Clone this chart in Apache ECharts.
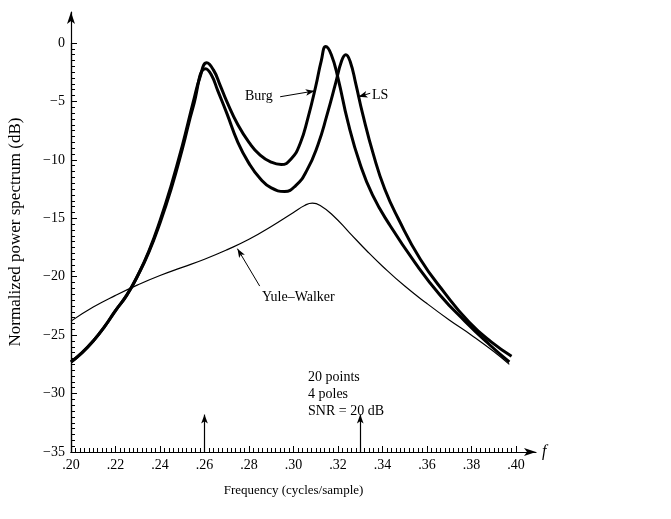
<!DOCTYPE html>
<html><head><meta charset="utf-8">
<script src="https://cdn.jsdelivr.net/npm/echarts@6/dist/echarts.min.js"></script>
<style>html,body{margin:0;padding:0;background:#fff}#c{width:671px;height:519px}</style>
</head><body><div id="c"></div>
<script>
// Frequencies (cycles/sample) and normalized power (dB)
const burgF  = [0.200,0.205,0.210,0.215,0.220,0.225,0.230,0.235,0.240,0.245,0.250,0.255,0.258,0.261,0.264,0.267,0.270,0.275,0.280,0.285,0.290,0.2945,0.299,0.303,0.3065,0.310,0.3125,0.3145,0.317,0.320,0.3245,0.330,0.3355,0.343,0.355,0.366,0.377,0.388,0.397];
const burgDb = [-27.3,-26.5,-25.5,-24.3,-22.9,-21.6,-19.9,-17.8,-15.2,-12.2,-8.8,-5.0,-2.9,-1.7,-2.3,-3.6,-5.0,-7.0,-8.5,-9.6,-10.2,-10.4,-9.9,-8.6,-6.4,-3.7,-1.5,-0.3,-1.0,-3.0,-6.8,-10.4,-13.0,-15.5,-18.9,-21.6,-23.8,-25.8,-27.3];
const lsF    = [0.200,0.205,0.210,0.215,0.220,0.225,0.230,0.235,0.240,0.245,0.250,0.255,0.2605,0.263,0.266,0.270,0.275,0.280,0.285,0.290,0.296,0.301,0.306,0.311,0.315,0.319,0.3215,0.3235,0.3255,0.328,0.331,0.336,0.341,0.347,0.357,0.368,0.379,0.389,0.398];
const lsDb   = [-27.3,-26.5,-25.5,-24.3,-22.9,-21.6,-19.9,-17.9,-15.4,-12.5,-9.1,-5.4,-2.2,-2.7,-4.1,-6.0,-8.5,-10.3,-11.6,-12.4,-12.7,-12.2,-10.9,-8.7,-6.2,-3.4,-1.6,-1.0,-1.6,-3.5,-6.0,-9.6,-12.5,-15.0,-18.5,-21.4,-23.9,-25.6,-26.8];
const ywF    = [0.200,0.210,0.220,0.230,0.240,0.250,0.260,0.270,0.280,0.290,0.300,0.305,0.3085,0.312,0.318,0.325,0.333,0.340,0.350,0.360,0.370,0.380,0.390,0.397];
const ywDb   = [-23.8,-22.6,-21.6,-20.7,-19.9,-19.2,-18.5,-17.7,-16.8,-15.7,-14.5,-13.9,-13.7,-13.9,-14.8,-16.2,-17.8,-19.1,-20.8,-22.3,-23.7,-25.0,-26.4,-27.5];
const trueFreqs = [0.26, 0.33];
const notes = ['20 points','4 poles','SNR = 20 dB'];

const FONT = '"Liberation Serif", "DejaVu Serif", serif';
const pairs = (a,b) => a.map((v,i)=>[v,b[i]]);
const chart = echarts.init(document.getElementById('c'));

const arrowLine = (from, to) => ({
  symbol: ['none','arrow'], symbolSize: [5,9], silent: true,
  lineStyle: {color:'#000', width: 1, type:'solid'},
  label: {show: false},
  data: [[{coord: from}, {coord: to}]]
});

chart.setOption({
  animation: false,
  backgroundColor: '#fff',
  grid: [
    {left: 71, right: 155, top: 43, bottom: 67, containLabel:false, outerBoundsMode:'none'},
    {left: 71, right: 135, top: 12, bottom: 67, containLabel:false, outerBoundsMode:'none'}
  ],
  xAxis: [
    {type:'value', gridIndex:0, min:0.20, max:0.40, interval:0.02,
     axisLine:{show:true, onZero:false, lineStyle:{color:'#000', width:1.2}},
     axisTick:{show:true, inside:true, length:6, lineStyle:{color:'#000'}},
     minorTick:{show:true, splitNumber:10, length:4, lineStyle:{color:'#000'}},
     splitLine:{show:false},
     axisLabel:{color:'#000', fontFamily:FONT, fontSize:14, margin:6,
       formatter: v => v.toFixed(2).replace('0.', '.')},
     name:'Frequency (cycles/sample)', nameLocation:'middle', nameGap:32,
     nameTextStyle:{color:'#000', fontFamily:FONT, fontSize:13}},
    {type:'value', gridIndex:1, min:0, max:1,
     axisLine:{show:true, onZero:false, symbol:['none','arrow'], symbolSize:[6,12], lineStyle:{color:'#000', width:1.2}},
     axisTick:{show:false}, axisLabel:{show:false}, splitLine:{show:false},
     name:'f', nameLocation:'end', nameGap:6,
     nameTextStyle:{color:'#000', fontFamily:FONT, fontSize:16, fontStyle:'italic', verticalAlign:'middle'}}
  ],
  yAxis: [
    {type:'value', gridIndex:0, min:-35, max:0, interval:5,
     axisLine:{show:true, onZero:false, lineStyle:{color:'#000', width:1.2}},
     axisTick:{show:true, inside:true, length:6, lineStyle:{color:'#000'}},
     minorTick:{show:true, splitNumber:10, length:4, lineStyle:{color:'#000'}},
     splitLine:{show:false},
     axisLabel:{color:'#000', fontFamily:FONT, fontSize:14, margin:6,
       formatter: v => v < 0 ? '\u2212' + Math.abs(v) : String(v)}},
    {type:'value', gridIndex:1, min:0, max:1,
     axisLine:{show:true, onZero:false, symbol:['none','arrow'], symbolSize:[6,12], lineStyle:{color:'#000', width:1.2}},
     axisTick:{show:false}, axisLabel:{show:false}, splitLine:{show:false},
     name:'Normalized power spectrum (dB)', nameLocation:'middle', nameGap:47,
     nameTextStyle:{color:'#000', fontFamily:FONT, fontSize:17}}
  ],
  series: [
    {name:'Yule-Walker', type:'line', xAxisIndex:0, yAxisIndex:0, data:pairs(ywF, ywDb),
     smooth:0.5, showSymbol:false, lineStyle:{color:'#000', width:1.2},
     markLine: arrowLine([0.2848,-20.8],[0.2748,-17.6])},
    {name:'LS', type:'line', xAxisIndex:0, yAxisIndex:0, data:pairs(lsF, lsDb),
     smooth:0.5, showSymbol:false, lineStyle:{color:'#000', width:3},
     markLine: arrowLine([0.3345,-4.3],[0.3292,-4.6])},
    {name:'Burg', type:'line', xAxisIndex:0, yAxisIndex:0, data:pairs(burgF, burgDb),
     smooth:0.5, showSymbol:false, lineStyle:{color:'#000', width:3},
     markLine: arrowLine([0.2940,-4.6],[0.3095,-4.1])},
    {name:'true', type:'line', xAxisIndex:0, yAxisIndex:0, data:[], showSymbol:false,
     markLine: {symbol:['none','arrow'], symbolSize:[5,9], silent:true,
       lineStyle:{color:'#000', width:1.2, type:'solid'}, label:{show:false},
       data: trueFreqs.map(f => [{coord:[f,-35]},{coord:[f,-31.8]}])}}
  ],
  graphic: [
    {type:'text', left:245, top:89, style:{text:'Burg', fill:'#000', font:'14px ' + FONT}},
    {type:'text', left:372, top:88, style:{text:'LS', fill:'#000', font:'14px ' + FONT}},
    {type:'text', left:262, top:290, style:{text:'Yule\u2013Walker', fill:'#000', font:'14px ' + FONT}},
    {type:'text', left:308, top:369, style:{text: notes.join('\n'), fill:'#000', font:'14px ' + FONT, lineHeight:17}}
  ]
});
</script></body></html>
